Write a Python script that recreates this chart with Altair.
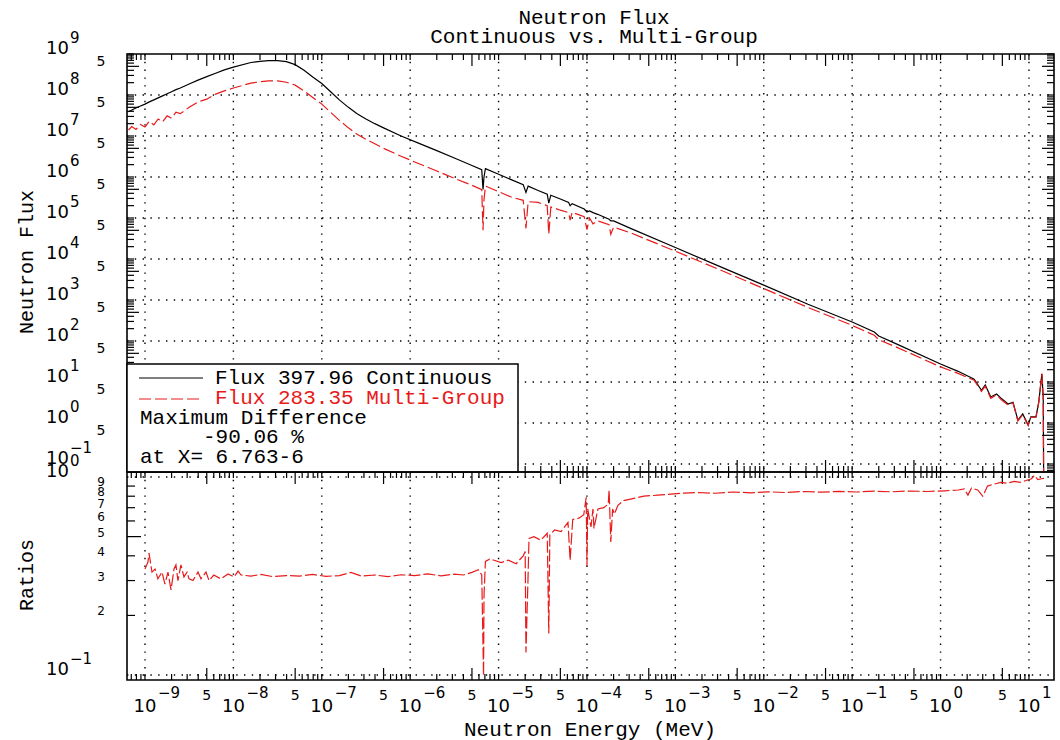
import altair as alt
import pandas as pd

# ------------------------------------------------------------------ data
FLUX_ENERGY = [6.5e-10, 7.1e-10, 7.9e-10, 8.9e-10, 1.0e-9, 1.12e-9, 1.26e-9, 1.41e-9, 1.58e-9, 1.78e-9,
               2.0e-9, 2.24e-9, 2.51e-9, 3.16e-9, 3.98e-9, 5.0e-9, 6.3e-9, 7.9e-9, 1.0e-8, 1.58e-8,
               2.0e-8, 2.51e-8, 3.16e-8, 3.98e-8, 5.0e-8, 6.3e-8, 7.9e-8, 1.0e-7, 1.26e-7, 1.58e-7,
               2.0e-7, 2.51e-7, 3.16e-7, 3.98e-7, 5.0e-7, 7.9e-7,
               1.26e-6, 2.0e-6, 3.16e-6, 5.0e-6, 6.45e-6, 6.67e-6, 6.84e-6, 7.1e-6, 1.0e-5, 1.41e-5,
               1.9e-5, 2.04e-5, 2.16e-5, 2.8e-5, 3.55e-5, 3.7e-5, 3.9e-5, 5.0e-5, 6.2e-5, 6.45e-5,
               6.8e-5, 9.3e-5, 1.0e-4, 1.07e-4, 1.17e-4, 1.32e-4, 1.78e-4, 1.86e-4, 2.0e-4, 3.16e-4,
               1.0e-3, 3.16e-3, 1.0e-2, 3.16e-2, 0.1, 0.178, 0.2, 0.316, 1.0, 1.58,
               2.4, 2.9, 3.2, 3.7, 4.3, 4.8, 5.8, 6.6, 7.5, 8.5,
               9.8, 10.5, 12.0, 12.9, 14.0, 14.5, 14.8]

FLUX_CONTINUOUS = [3.9e7, 4.3e7, 4.8e7, 5.4e7, 6.0e7, 6.8e7, 7.6e7, 8.5e7, 9.5e7, 1.07e8,
                   1.2e8, 1.35e8, 1.48e8, 1.86e8, 2.3e8, 2.8e8, 3.4e8, 4.1e8, 4.8e8, 6.2e8,
                   6.6e8, 6.9e8, 6.9e8, 6.5e8, 5.5e8, 4.0e8, 2.75e8, 1.9e8, 1.2e8, 7.6e7,
                   5.0e7, 3.5e7, 2.6e7, 2.0e7, 1.58e7, 1.0e7,
                   6.6e6, 4.4e6, 2.9e6, 1.9e6, 1.5e6, 5.0e5, 1.0e6, 1.6e6, 1.17e6, 8.5e5,
                   6.5e5, 4.2e5, 6.0e5, 4.7e5, 3.8e5, 2.3e5, 3.6e5, 2.9e5, 2.4e5, 2.0e5,
                   2.24e5, 1.66e5, 1.4e5, 1.48e5, 1.35e5, 1.23e5, 9.3e4, 8.5e4, 8.5e4, 5.5e4,
                   1.9e4, 6.6e3, 2.3e3, 7.9e2, 2.9e2, 1.66e2, 1.32e2, 85, 27.5, 18.2,
                   11.7, 6.3, 8.5, 4.3, 5.1, 4.1, 2.9, 3.2, 1.17, 1.66,
                   0.89, 1.41, 1.41, 3.2, 15.8, 4.3, 1e-3]

FLUX_MULTIGROUP = [1.4e7, 1.7e7, 1.45e7, 1.9e7, 1.66e7, 2.3e7, 1.86e7, 2.6e7, 2.2e7, 3.1e7,
                   2.7e7, 3.8e7, 3.5e7, 5.0e7, 6.8e7, 7.9e7, 1.05e8, 1.26e8, 1.48e8, 1.95e8,
                   2.1e8, 2.2e8, 2.2e8, 2.05e8, 1.74e8, 1.26e8, 8.7e7, 6.0e7, 3.8e7, 2.4e7,
                   1.58e7, 1.1e7, 8.3e6, 6.5e6, 5.0e6, 3.2e6,
                   2.1e6, 1.4e6, 9.3e5, 6.3e5, 4.9e5, 5.0e4, 2.8e5, 6.0e5, 4.4e5, 3.2e5,
                   2.7e5, 5.6e4, 2.5e5, 2.4e5, 2.0e5, 4.0e4, 1.86e5, 1.55e5, 1.35e5, 8.9e4,
                   1.38e5, 1.07e5, 5.2e4, 1.0e5, 7.2e4, 8.5e4, 6.9e4, 4.0e4, 6.0e4, 4.3e4,
                   1.55e4, 5.5e3, 1.9e3, 6.6e2, 2.4e2, 1.38e2, 1.07e2, 71, 23.4, 16.2,
                   11.0, 5.9, 7.9, 4.0, 4.9, 3.8, 2.75, 3.1, 1.12, 1.58,
                   0.87, 1.38, 1.38, 3.16, 15.8, 4.2, 1e-3]

RATIO_ENERGY = [1.0e-9, 1.08e-9, 1.11e-9, 1.2e-9, 1.3e-9, 1.4e-9, 1.56e-9, 1.68e-9, 1.82e-9, 1.97e-9,
                2.13e-9, 2.24e-9, 2.36e-9, 2.55e-9, 2.76e-9, 2.99e-9, 3.15e-9, 3.49e-9, 3.98e-9, 4.3e-9,
                4.9e-9, 5.3e-9, 6.0e-9, 7.2e-9, 8.7e-9, 1.02e-8, 1.13e-8, 1.22e-8, 1.58e-8, 2.04e-8,
                2.8e-8, 3.98e-8, 5.6e-8, 7.9e-8, 1.12e-7, 1.58e-7, 2.14e-7, 2.8e-7, 3.98e-7, 5.6e-7,
                7.9e-7, 1.12e-6, 1.58e-6, 2.24e-6, 3.16e-6, 3.98e-6, 5.0e-6, 5.9e-6, 6.45e-6, 6.763e-6,
                6.84e-6, 7.1e-6, 7.9e-6, 8.9e-6, 1.07e-5, 1.29e-5, 1.58e-5, 1.9e-5, 2.0e-5, 2.04e-5,
                2.15e-5, 2.21e-5, 2.51e-5, 3.0e-5, 3.55e-5, 3.7e-5, 3.8e-5, 4.3e-5, 5.1e-5, 6.1e-5,
                6.45e-5, 6.9e-5, 8.1e-5, 9.2e-5, 9.8e-5, 1.0e-4, 1.02e-4, 1.11e-4, 1.17e-4, 1.2e-4,
                1.33e-4, 1.55e-4, 1.74e-4, 1.78e-4, 1.86e-4, 1.95e-4, 2.04e-4, 2.24e-4, 2.6e-4, 3.4e-4,
                4.4e-4, 6.3e-4, 8.9e-4, 1.26e-3, 1.82e-3, 2.8e-3, 4.5e-3, 7.1e-3, 1.12e-2, 1.78e-2,
                2.8e-2, 4.5e-2, 7.1e-2, 0.112, 0.178, 0.28, 0.45, 0.71, 1.12, 1.58,
                1.86, 2.04, 2.24, 2.63, 3.0, 3.4, 4.0, 4.8, 5.6, 6.8,
                7.9, 9.3, 10.7, 11.5, 12.6, 13.8, 14.8]

RATIO_VALUES = [0.343, 0.372, 0.413, 0.331, 0.343, 0.306, 0.331, 0.288, 0.331, 0.269,
                0.343, 0.360, 0.300, 0.360, 0.313, 0.331, 0.306, 0.300, 0.331, 0.306,
                0.331, 0.300, 0.320, 0.306, 0.324, 0.313, 0.335, 0.320, 0.316, 0.322,
                0.314, 0.318, 0.316, 0.322, 0.315, 0.318, 0.330, 0.316, 0.320, 0.314,
                0.321, 0.318, 0.324, 0.317, 0.323, 0.320, 0.330, 0.340, 0.320, 0.0994,
                0.25, 0.375, 0.385, 0.380, 0.370, 0.380, 0.365, 0.400, 0.420, 0.130,
                0.300, 0.490, 0.500, 0.480, 0.520, 0.162, 0.510, 0.540, 0.530, 0.590,
                0.380, 0.610, 0.620, 0.645, 0.790, 0.355, 0.690, 0.560, 0.690, 0.550,
                0.690, 0.700, 0.730, 0.860, 0.470, 0.690, 0.650, 0.720, 0.760, 0.780,
                0.800, 0.810, 0.820, 0.830, 0.835, 0.828, 0.840, 0.832, 0.842, 0.835,
                0.845, 0.838, 0.846, 0.840, 0.848, 0.842, 0.850, 0.845, 0.852, 0.860,
                0.870, 0.810, 0.880, 0.860, 0.800, 0.900, 0.920, 0.940, 0.930, 0.950,
                0.940, 0.960, 0.980, 1.020, 0.970, 0.980, 0.985]

TITLE_LINES = ["Neutron Flux", "Continuous vs. Multi-Group"]
LEGEND_CONT = "Flux 397.96 Continuous"
LEGEND_MG = "Flux 283.35 Multi-Group"
LEGEND_DIFF = ["Maximum Difference", "-90.06 %", "at X= 6.763-6"]
X_TITLE = "Neutron Energy (MeV)"
Y_TITLE_TOP = "Neutron Flux"
Y_TITLE_BOT = "Ratios"

X_DECADES = list(range(-9, 2))          # 10^-9 ... 10^1
Y_DECADES = list(range(-1, 10))         # 10^-1 ... 10^9
RATIO_DIGITS = [2, 3, 4, 5, 6, 7, 8, 9]

X_DOMAIN = [6.26e-10, 19.2]
Y_DOMAIN_TOP = [0.0638, 1.0e9]
Y_DOMAIN_BOT = [0.0944, 1.06]

# ------------------------------------------------------------------ style
MONO = "Liberation Mono"
SANS = "DejaVu Sans"
RED = "#e81a1a"
W, HT, HB = 927, 418, 208
DOT = [1.4, 6.4]

xs = alt.Scale(type="log", domain=X_DOMAIN, nice=False)
yt = alt.Scale(type="log", domain=Y_DOMAIN_TOP, nice=False)
yb = alt.Scale(type="log", domain=Y_DOMAIN_BOT, nice=False)

flux_df = pd.DataFrame({"E": FLUX_ENERGY, "cont": FLUX_CONTINUOUS, "mg": FLUX_MULTIGROUP})
ratio_df = pd.DataFrame({"E": RATIO_ENERGY, "r": RATIO_VALUES})


def one():
    return pd.DataFrame({"k": [0]})


def inside(v, dom):
    return dom[0] <= v <= dom[1]


def xvals(mants, lo=-10, hi=2):
    return [m * 10.0 ** n for n in range(lo, hi) for m in mants if inside(m * 10.0 ** n, X_DOMAIN)]


def vgrid(vals, h):
    return alt.Chart(pd.DataFrame({"v": vals})).mark_rule(
        color="black", strokeWidth=1.4, strokeDash=DOT).encode(
        x=alt.X("v:Q", scale=xs, axis=None), y=alt.value(0), y2=alt.value(h))


def hgrid(vals, scale):
    return alt.Chart(pd.DataFrame({"v": vals})).mark_rule(
        color="black", strokeWidth=1.4, strokeDash=DOT).encode(
        y=alt.Y("v:Q", scale=scale, axis=None), x=alt.value(0), x2=alt.value(W))


def xticks(vals, y0, y1):
    return alt.Chart(pd.DataFrame({"v": vals})).mark_rule(color="black", strokeWidth=1.2).encode(
        x=alt.X("v:Q", scale=xs, axis=None), y=alt.value(y0), y2=alt.value(y1))


def yticks(vals, scale, x0, x1):
    return alt.Chart(pd.DataFrame({"v": vals})).mark_rule(color="black", strokeWidth=1.2).encode(
        y=alt.Y("v:Q", scale=scale, axis=None), x=alt.value(x0), x2=alt.value(x1))


def xtick_set(h):
    minor = xvals([1, 2, 3, 4, 6, 7, 8, 9])
    five = xvals([5])
    return [xticks(minor, 0, 6), xticks(five, 0, 12),
            xticks(minor, h - 6, h), xticks(five, h - 12, h)]


def ytick_set(minor, five, scale, lm, lf):
    return [yticks(minor, scale, 0, lm), yticks(five, scale, 0, lf),
            yticks(minor, scale, W - lm, W), yticks(five, scale, W - lf, W)]


def text_px(txt, x, y, size, color="black", align="left", angle=0, font=MONO, baseline="alphabetic"):
    return alt.Chart(one()).mark_text(
        text=txt, font=font, fontSize=size, color=color, align=align,
        baseline=baseline, angle=angle).encode(x=alt.value(x), y=alt.value(y))


def sup(n):
    return str(n).replace("-", "\u2212")


# ------------------------------------------------------------------ top panel
top_minor = [m * 10.0 ** n for n in range(-2, 10) for m in (1, 2, 3, 4, 6, 7, 8, 9)
             if inside(m * 10.0 ** n, Y_DOMAIN_TOP)]
top_five = [5 * 10.0 ** n for n in range(-2, 10) if inside(5 * 10.0 ** n, Y_DOMAIN_TOP)]

black_line = alt.Chart(flux_df).mark_line(color="black", strokeWidth=1.2, clip=True).encode(
    x=alt.X("E:Q", scale=xs, axis=None), y=alt.Y("cont:Q", scale=yt, axis=None))
red_line = alt.Chart(flux_df).mark_line(color=RED, strokeWidth=1.2, strokeDash=[12, 4], clip=True).encode(
    x=alt.X("E:Q", scale=xs, axis=None), y=alt.Y("mg:Q", scale=yt, axis=None))

ydec_df = pd.DataFrame({"v": [10.0 ** d for d in Y_DECADES], "e": [sup(d) for d in Y_DECADES]})
yfive_df = pd.DataFrame({"v": top_five})

top_labels = [
    alt.Chart(ydec_df).mark_text(text="10", font=SANS, fontSize=18, align="right", baseline="alphabetic").encode(
        y=alt.Y("v:Q", scale=yt, axis=None), x=alt.value(-58)),
    alt.Chart(ydec_df).mark_text(font=SANS, fontSize=15, align="left", baseline="alphabetic", dy=-11).encode(
        y=alt.Y("v:Q", scale=yt, axis=None), x=alt.value(-57), text="e:N"),
    alt.Chart(yfive_df).mark_text(text="5", font=SANS, fontSize=14, align="center", baseline="alphabetic").encode(
        y=alt.Y("v:Q", scale=yt, axis=None), x=alt.value(-26)),
]

legend = [
    alt.Chart(one()).mark_rect(fill="white", stroke="black", strokeWidth=1.5).encode(
        x=alt.value(0), x2=alt.value(391), y=alt.value(310), y2=alt.value(418)),
    alt.Chart(one()).mark_rule(color="black", strokeWidth=1.2).encode(
        x=alt.value(12), x2=alt.value(76), y=alt.value(324)),
    alt.Chart(one()).mark_rule(color=RED, strokeWidth=1.2, strokeDash=[12, 4]).encode(
        x=alt.value(12), x2=alt.value(76), y=alt.value(345)),
    text_px(LEGEND_CONT, 88, 330, 21),
    text_px(LEGEND_MG, 88, 350, 21, color=RED),
    text_px(LEGEND_DIFF[0], 13, 370, 21),
    text_px(LEGEND_DIFF[1], 76, 389, 21),
    text_px(LEGEND_DIFF[2], 13, 409, 21),
]

title_marks = [text_px(TITLE_LINES[0], 467, -30, 21, align="center"),
               text_px(TITLE_LINES[1], 467, -11, 21, align="center")]

top_layers = ([vgrid([10.0 ** d for d in X_DECADES], HT),
               hgrid([10.0 ** d for d in Y_DECADES if d < 9], yt)]
              + xtick_set(HT)
              + ytick_set(top_minor, top_five, yt, 7, 12)
              + [black_line, red_line]
              + legend
              + top_labels
              + title_marks
              + [text_px(Y_TITLE_TOP, -100, 208, 20, align="center", angle=270, baseline="middle")])

top = alt.layer(*top_layers).properties(width=W, height=HT)

# ------------------------------------------------------------------ bottom panel
bot_minor = [m / 10.0 for m in (2, 3, 4, 6, 7, 8, 9)]
bot_five = [0.5]

ratio_line = alt.Chart(ratio_df).mark_line(color=RED, strokeWidth=1.2, strokeDash=[12, 3], clip=True).encode(
    x=alt.X("E:Q", scale=xs, axis=None), y=alt.Y("r:Q", scale=yb, axis=None))

rdec_df = pd.DataFrame({"v": [0.1, 1.0], "e": [sup(-1), sup(0)]})
rdig_df = pd.DataFrame({"v": [d / 10.0 for d in RATIO_DIGITS], "t": [str(d) for d in RATIO_DIGITS]})
xdec_df = pd.DataFrame({"v": [10.0 ** d for d in X_DECADES], "e": [sup(d) for d in X_DECADES]})
xfive_df = pd.DataFrame({"v": xvals([5])})

bot_labels = [
    alt.Chart(rdec_df).mark_text(text="10", font=SANS, fontSize=18, align="right", baseline="alphabetic").encode(
        y=alt.Y("v:Q", scale=yb, axis=None), x=alt.value(-58)),
    alt.Chart(rdec_df).mark_text(font=SANS, fontSize=15, align="left", baseline="alphabetic", dy=-11).encode(
        y=alt.Y("v:Q", scale=yb, axis=None), x=alt.value(-57), text="e:N"),
    alt.Chart(rdig_df).mark_text(font=SANS, fontSize=12, align="center", baseline="alphabetic").encode(
        y=alt.Y("v:Q", scale=yb, axis=None), x=alt.value(-26), text="t:N"),
    alt.Chart(xdec_df).mark_text(text="10", font=SANS, fontSize=18, align="center", baseline="alphabetic").encode(
        x=alt.X("v:Q", scale=xs, axis=None), y=alt.value(240)),
    alt.Chart(xdec_df).mark_text(font=SANS, fontSize=15, align="left", baseline="alphabetic", dx=13).encode(
        x=alt.X("v:Q", scale=xs, axis=None), y=alt.value(226), text="e:N"),
    alt.Chart(xfive_df).mark_text(text="5", font=SANS, fontSize=14, align="center", baseline="alphabetic").encode(
        x=alt.X("v:Q", scale=xs, axis=None), y=alt.value(228)),
]

bot_layers = ([vgrid([10.0 ** d for d in X_DECADES], HB), hgrid([0.1, 1.0], yb)]
              + xtick_set(HB)
              + ytick_set(bot_minor, bot_five, yb, 8, 14)
              + [ratio_line]
              + bot_labels
              + [text_px(Y_TITLE_BOT, -100, 103, 20, align="center", angle=270, baseline="middle"),
                 text_px(X_TITLE, 463, 264, 21, align="center")])

bottom = alt.layer(*bot_layers).properties(width=W, height=HB)

chart = alt.vconcat(top, bottom, spacing=0, bounds="flush").resolve_scale(
    x="independent", y="independent").properties(
    padding={"left": 16, "top": 6, "right": 4, "bottom": 2}, background="white").configure_view(
    stroke="black", strokeWidth=1.6)

chart.save("out.html", embed_options={"renderer": "svg", "actions": False})
